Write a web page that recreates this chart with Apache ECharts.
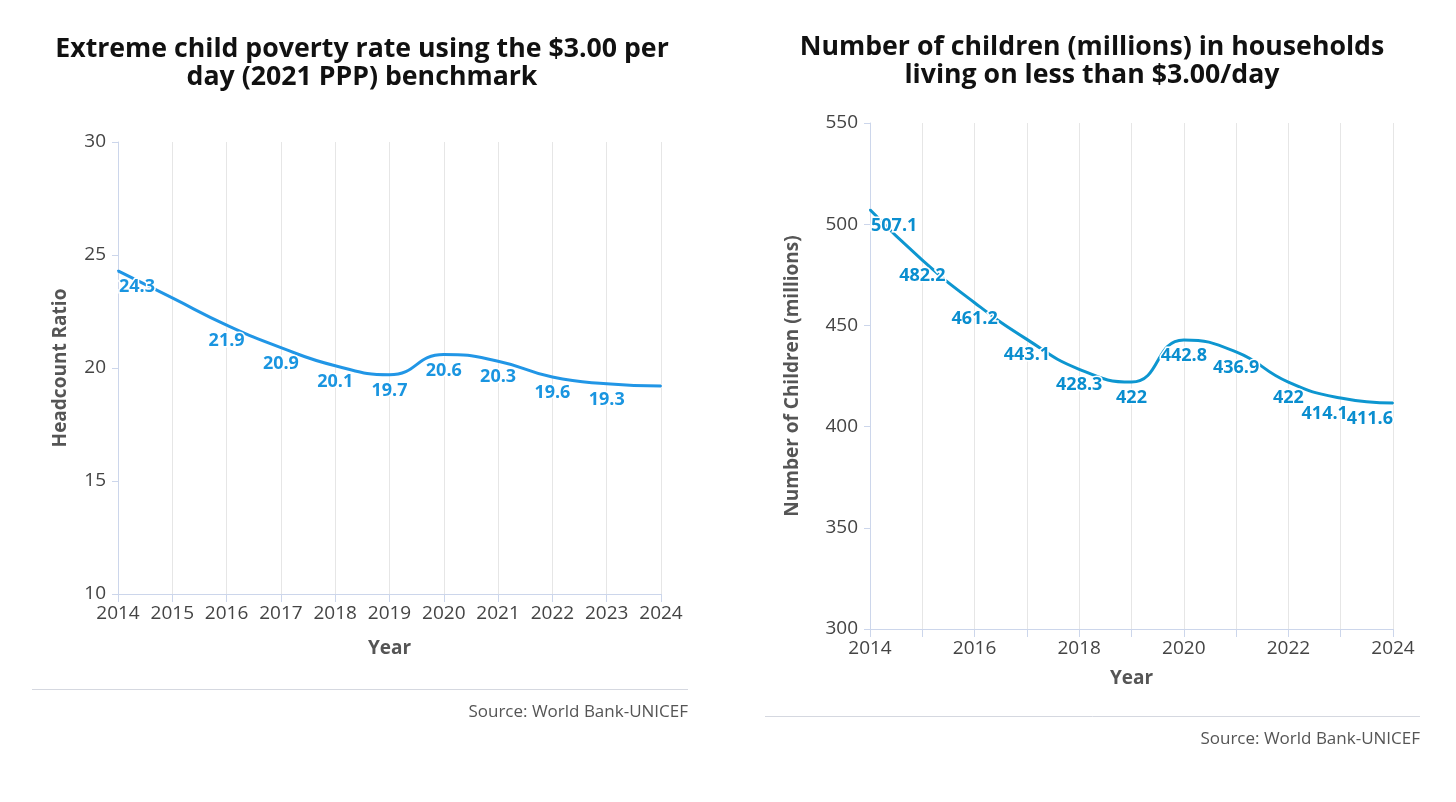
<!DOCTYPE html>
<html>
<head>
<meta charset="utf-8">
<script src="https://cdn.jsdelivr.net/npm/echarts@6/dist/echarts.min.js"></script>
<style>
html,body{margin:0;padding:0;background:#fff;}
#c{width:1456px;height:802px;}
</style>
</head>
<body>
<div id="c"></div>
<script>
// ---- Data ----
const yearsLeft = ['2014','2015','2016','2017','2018','2019','2020','2021','2022','2023','2024'];
const rateValues = [24.3, 23.1, 21.9, 20.9, 20.1, 19.7, 20.6, 20.3, 19.6, 19.3, 19.2];
const rateHiddenLabels = [1, 10]; // labels hidden in the reference (overlap)
const yearsRight = ['2014','2015','2016','2017','2018','2019','2020','2021','2022','2023','2024'];
const childrenValues = [507.1, 482.2, 461.2, 443.1, 428.3, 422, 442.8, 436.9, 422, 414.1, 411.6];
const leftYTicks = [10, 15, 20, 25, 30];
const rightYTicks = [300, 350, 400, 450, 500, 550];
const titleLeft = 'Extreme child poverty rate using the $3.00 per\nday (2021 PPP) benchmark';
const titleRight = 'Number of children (millions) in households\nliving on less than $3.00/day';
const sourceText = 'Source: World Bank-UNICEF';

const FONT = '"Open Sans", "Noto Sans", sans-serif';
const leftColor = '#2196e6';
const leftLabel = '#1a95e0';
const rightColor = '#0d96d0';
const rightLabel = '#0a8ecf';

function labelBase(color) {
  return {
    show: true, position: 'bottom', distance: 6, opacity: 1,
    color: color, fontFamily: FONT, fontWeight: 'bold', fontSize: 18,
    textBorderColor: '#fff', textBorderWidth: 3
  };
}

const leftData = rateValues.map((v, i) => {
  const d = { value: v };
  if (rateHiddenLabels.indexOf(i) >= 0) d.label = { show: false };
  if (i === 0) d.label = { align: 'left', offset: [1, 0] };
  return d;
});
const rightData = childrenValues.map((v, i) => {
  const d = { value: v };
  if (i === 0) d.label = { align: 'left', offset: [1, 0] };
  if (i === childrenValues.length - 2) d.label = { offset: [-16, 0] };
  if (i === childrenValues.length - 1) d.label = { align: 'right', offset: [0, 0] };
  return d;
});

const axisLineStyle = { color: '#ccd6eb', width: 1 };
const gridLineStyle = { color: '#e6e6e6', width: 1 };
const tickLabel = { color: '#444', fontFamily: FONT, fontSize: 19 };
const nameStyle = { color: '#555', fontFamily: FONT, fontWeight: 'bold', fontSize: 19 };
const titleStyle = { fontFamily: FONT, fontWeight: 'bold', fontSize: 26.7, color: '#111', lineHeight: 28, align: 'center' };

const chart = echarts.init(document.getElementById('c'), null, { renderer: 'canvas' });
chart.setOption({
  animation: false,
  backgroundColor: '#fff',
  title: [
    { text: titleLeft, left: 357, top: 30, textAlign: 'center', textStyle: titleStyle },
    { text: titleRight, left: 1087, top: 28, textAlign: 'center', textStyle: titleStyle }
  ],
  grid: [
    { left: 118, top: 142, width: 543, height: 452, containLabel: false },
    { left: 870, top: 123, width: 523, height: 506, containLabel: false }
  ],
  xAxis: [
    { type: 'category', gridIndex: 0, data: yearsLeft, boundaryGap: false,
      name: 'Year', nameLocation: 'middle', nameGap: 45, nameTextStyle: nameStyle,
      axisLine: { lineStyle: axisLineStyle },
      axisTick: { show: true, length: 8, interval: 0, lineStyle: axisLineStyle },
      axisLabel: Object.assign({ margin: 10, interval: 0 }, tickLabel),
      splitLine: { show: true, interval: 0, lineStyle: gridLineStyle } },
    { type: 'category', gridIndex: 1, data: yearsRight, boundaryGap: false,
      name: 'Year', nameLocation: 'middle', nameGap: 40, nameTextStyle: nameStyle,
      axisLine: { lineStyle: axisLineStyle },
      axisTick: { show: true, length: 8, interval: 0, lineStyle: axisLineStyle },
      axisLabel: Object.assign({ margin: 10, interval: 1 }, tickLabel),
      splitLine: { show: true, interval: 0, lineStyle: gridLineStyle } }
  ],
  yAxis: [
    { type: 'value', gridIndex: 0, min: leftYTicks[0], max: leftYTicks[leftYTicks.length - 1], interval: 5,
      name: 'Headcount Ratio', nameLocation: 'middle', nameGap: 48, nameTextStyle: nameStyle,
      axisLine: { show: true, lineStyle: axisLineStyle },
      axisTick: { show: true, length: 6, lineStyle: axisLineStyle },
      axisLabel: Object.assign({ margin: 12 }, tickLabel),
      splitLine: { show: false } },
    { type: 'value', gridIndex: 1, min: rightYTicks[0], max: rightYTicks[rightYTicks.length - 1], interval: 50,
      name: 'Number of Children (millions)', nameLocation: 'middle', nameGap: 68, nameTextStyle: nameStyle,
      axisLine: { show: true, lineStyle: axisLineStyle },
      axisTick: { show: true, length: 6, lineStyle: axisLineStyle },
      axisLabel: Object.assign({ margin: 12 }, tickLabel),
      splitLine: { show: false } }
  ],
  series: [
    { type: 'line', xAxisIndex: 0, yAxisIndex: 0, data: leftData, smooth: 0.5,
      showSymbol: true, showAllSymbol: true, symbol: 'circle', symbolSize: 2, itemStyle: { color: leftColor },
      lineStyle: { color: leftColor, width: 3 },
      label: labelBase(leftLabel), z: 3 },
    { type: 'line', xAxisIndex: 1, yAxisIndex: 1, data: rightData, smooth: 0.5,
      showSymbol: true, showAllSymbol: true, symbol: 'circle', symbolSize: 2, itemStyle: { color: rightColor },
      lineStyle: { color: rightColor, width: 3 },
      label: labelBase(rightLabel), z: 3 }
  ],
  graphic: [
    { type: 'line', shape: { x1: 32, y1: 689.5, x2: 688, y2: 689.5 }, style: { stroke: '#d5d8e0', lineWidth: 1 } },
    { type: 'text', right: 1456 - 688, top: 704, style: { text: sourceText, fill: '#555', font: '17px ' + FONT } },
    { type: 'line', shape: { x1: 765, y1: 716.5, x2: 1420, y2: 716.5 }, style: { stroke: '#d5d8e0', lineWidth: 1 } },
    { type: 'text', right: 1456 - 1420, top: 731, style: { text: sourceText, fill: '#555', font: '17px ' + FONT } }
  ]
});
</script>
</body>
</html>
